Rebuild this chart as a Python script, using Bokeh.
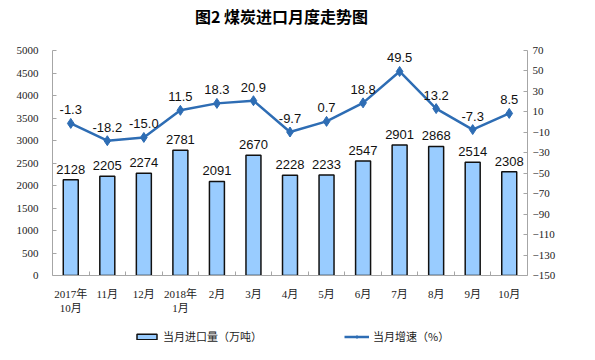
from bokeh.plotting import figure
from bokeh.layouts import column
from bokeh.models import (Range1d, LinearAxis, FixedTicker, Legend, LegendItem,
                          ColumnDataSource, LabelSet, Div)
from bokeh.core.properties import value
from bokeh.embed import file_html
from bokeh.resources import INLINE

# ---- data ----
months = ["2017年\n10月", "11月", "12月", "2018年\n1月", "2月", "3月", "4月",
          "5月", "6月", "7月", "8月", "9月", "10月"]
imports = [2128, 2205, 2274, 2781, 2091, 2670, 2228, 2233, 2547, 2901, 2868, 2514, 2308]
growth = [-1.3, -18.2, -15.0, 11.5, 18.3, 20.9, -9.7, 0.7, 18.8, 49.5, 13.2, -7.3, 8.5]
left_ticks = [0, 500, 1000, 1500, 2000, 2500, 3000, 3500, 4000, 4500, 5000]
right_ticks = [-150, -130, -110, -90, -70, -50, -30, -10, 10, 30, 50, 70]
title_text = "图2 煤炭进口月度走势图"
bar_name = "当月进口量（万吨）"
line_name = "当月增速（%）"

x = list(range(len(months)))
source = ColumnDataSource(dict(
    x=x, imports=imports, growth=growth,
    imp_lbl=[str(v) for v in imports],
    gr_lbl=[f"{v:.1f}" for v in growth],
))

BAR_FILL = "#99CCFF"
BAR_LINE = "#111111"
LINE_COL = "#2E6DB4"
AXIS_COL = "#A6A6A6"
SERIF = "Liberation Serif, Noto Sans CJK SC"

title_div = Div(text=title_text, width=579, height=30,
                styles={"font-family": "Noto Sans CJK SC", "font-size": "16px",
                        "font-weight": "bold", "color": "#000000",
                        "line-height": "20px", "padding-top": "6px",
                        "padding-left": "195px", "white-space": "nowrap",
                        "margin": "0"})

p = figure(frame_width=475, frame_height=225,
           x_range=Range1d(-0.5, len(months) - 0.5),
           y_range=Range1d(left_ticks[0], left_ticks[-1]),
           output_backend="svg", toolbar_location=None,
           min_border_left=52, min_border_right=52,
           min_border_top=20, min_border_bottom=40,
           title=None)
p.extra_y_ranges = {"pct": Range1d(right_ticks[0], right_ticks[-1])}
p.outline_line_color = None
p.xgrid.visible = False
p.ygrid.visible = False
p.background_fill_color = "white"
p.border_fill_color = "white"

# left axis
ya = p.yaxis[0]
ya.ticker = FixedTicker(ticks=left_ticks)
ya.axis_line_color = AXIS_COL
ya.major_tick_line_color = AXIS_COL
ya.major_tick_in = 4
ya.major_tick_out = 0
ya.minor_tick_line_color = None
ya.major_label_text_font = SERIF
ya.major_label_text_font_size = "11px"
ya.major_label_text_color = "#222222"
ya.major_label_standoff = 14

# right axis
ra = LinearAxis(y_range_name="pct", ticker=FixedTicker(ticks=right_ticks))
ra.axis_line_color = AXIS_COL
ra.major_tick_line_color = AXIS_COL
ra.major_tick_in = 4
ra.major_tick_out = 0
ra.minor_tick_line_color = None
ra.major_label_text_font = SERIF
ra.major_label_text_font_size = "11px"
ra.major_label_text_color = "#222222"
ra.major_label_standoff = 5
p.add_layout(ra, "right")

# bottom axis
xa = p.xaxis[0]
xa.ticker = FixedTicker(ticks=x, minor_ticks=[i + 0.5 for i in x[:-1]])
xa.major_label_overrides = {i: m for i, m in zip(x, months)}
xa.axis_line_color = AXIS_COL
xa.major_tick_line_color = None
xa.minor_tick_line_color = AXIS_COL
xa.minor_tick_in = 4
xa.minor_tick_out = 0
xa.major_label_text_font = SERIF
xa.major_label_text_font_size = "11px"
xa.major_label_text_color = "#222222"
xa.major_label_standoff = 6

bars = p.vbar(x="x", top="imports", width=0.41, source=source,
              fill_color=BAR_FILL, line_color=BAR_LINE, line_width=1.5)
line = p.line("x", "growth", y_range_name="pct", source=source,
              line_color=LINE_COL, line_width=2.5)
pts = p.scatter("x", "growth", y_range_name="pct", source=source,
                marker="diamond", size=10, fill_color=LINE_COL, line_color=LINE_COL)

p.add_layout(LabelSet(x="x", y="imports", text="imp_lbl", source=source,
                      text_align="center", text_baseline="bottom", y_offset=6,
                      text_font=value("Liberation Sans"), text_font_size=value("13px"),
                      text_color="#111111"))
p.add_layout(LabelSet(x="x", y="growth", text="gr_lbl", source=source,
                      y_range_name="pct",
                      text_align="center", text_baseline="bottom", y_offset=9,
                      text_font=value("Liberation Sans"), text_font_size=value("13px"),
                      text_color="#111111"))

# ---- legend strip (separate small figure so it is not clipped) ----
# swatch renderers: own copy of the data, off-view and drawn fully transparent
# (selection / nonselection glyphs); the legend uses the normal glyph styling
lf_src = ColumnDataSource(dict(x=x, imports=imports, growth=growth))
lf_src.selected.indices = [0]
lf = figure(width=579, height=29, x_range=Range1d(-0.5, len(months) - 0.5),
            y_range=Range1d(-300, -290),
            output_backend="svg", toolbar_location=None, min_border=0,
            x_axis_location=None, y_axis_location=None, title=None)
lf.outline_line_color = None
lf.xgrid.visible = False
lf.ygrid.visible = False
lf.background_fill_color = "white"
lf.border_fill_color = "white"
hide = dict(selection_fill_alpha=0, selection_line_alpha=0,
            nonselection_fill_alpha=0, nonselection_line_alpha=0)
lb = lf.vbar(x="x", top="imports", width=0.41, source=lf_src,
             fill_color=BAR_FILL, line_color=BAR_LINE, line_width=1.5, **hide)
ll = lf.line("x", "growth", source=lf_src, line_color=LINE_COL, line_width=2.5,
             selection_line_alpha=0, nonselection_line_alpha=0)
lp = lf.scatter("x", "growth", source=lf_src, marker="diamond", size=7,
                fill_color=LINE_COL, line_color=LINE_COL, **hide)
legend = Legend(items=[LegendItem(label=bar_name, renderers=[lb]),
                       LegendItem(label=line_name, renderers=[ll, lp])],
                orientation="horizontal", location=(82, 1),
                padding=0, margin=0, spacing=82,
                glyph_width=25, glyph_height=7, label_height=14,
                label_standoff=4,
                label_text_font="Noto Sans CJK SC", label_text_font_size="11px",
                label_text_color="#222222",
                border_line_color=None, background_fill_alpha=0)
lf.add_layout(legend)

layout = column(title_div, p, lf, spacing=0)
open("out.html", "w").write(file_html(layout, INLINE))
